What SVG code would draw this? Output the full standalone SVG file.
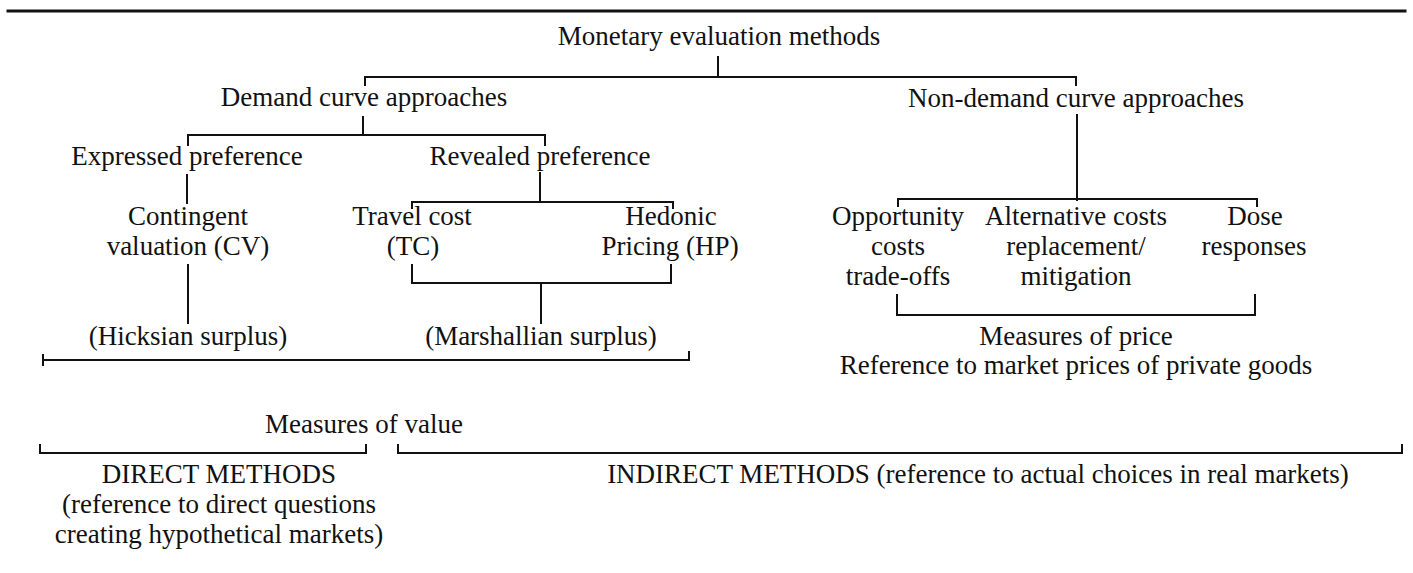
<svg xmlns="http://www.w3.org/2000/svg" width="1413" height="573" viewBox="0 0 1413 573">
<style>
text{font-family:"Liberation Serif","Times New Roman",serif;font-size:27px;fill:#111;text-anchor:middle}
.c{fill:none;stroke:#111;stroke-width:2;stroke-linecap:square}
</style>
<rect width="1413" height="573" fill="#fff"/>
<g id="connectors" class="c">
<line x1="8" y1="11" x2="1405" y2="11" stroke-width="3"/>
<path d="M718,57V77M365,85V77H1076V85"/>
<path d="M363,117V135M188,145V135H545V145"/>
<path d="M1077,115V200M898,206V199H1257V206"/>
<path d="M187,175V203"/>
<path d="M540,173V202M412,208V202H673V208"/>
<path d="M188,265V323"/>
<path d="M412,265V283H671V265M541,283V323"/>
<path d="M897,295V315H1255V295"/>
<path d="M43,355V365M43,360H689V352"/>
<path d="M40,445V453H366V445"/>
<path d="M398,445V453H1402V445"/>
</g>
<g id="n-monetary"><text x="719" y="45">Monetary evaluation methods</text></g>
<g id="n-demand"><text x="364" y="106">Demand curve approaches</text></g>
<g id="n-nondemand"><text x="1076" y="107">Non-demand curve approaches</text></g>
<g id="n-expressed"><text x="187" y="165">Expressed preference</text></g>
<g id="n-revealed"><text x="540" y="165">Revealed preference</text></g>
<g id="n-cv"><text x="188" y="225">Contingent</text><text x="188" y="255">valuation (CV)</text></g>
<g id="n-tc"><text x="412" y="225">Travel cost</text><text x="413" y="255">(TC)</text></g>
<g id="n-hp"><text x="671" y="225">Hedonic</text><text x="670" y="255">Pricing (HP)</text></g>
<g id="n-opp"><text x="898" y="225">Opportunity</text><text x="898" y="255">costs</text><text x="898" y="285">trade-offs</text></g>
<g id="n-alt"><text x="1076" y="225">Alternative costs</text><text x="1076" y="255">replacement/</text><text x="1076" y="285">mitigation</text></g>
<g id="n-dose"><text x="1255" y="225">Dose</text><text x="1254" y="255">responses</text></g>
<g id="n-hicks"><text x="188" y="345">(Hicksian surplus)</text></g>
<g id="n-marsh"><text x="541" y="345">(Marshallian surplus)</text></g>
<g id="n-price"><text x="1076" y="345">Measures of price</text><text x="1076" y="374">Reference to market prices of private goods</text></g>
<g id="n-value"><text x="364" y="433">Measures of value</text></g>
<g id="n-direct"><text x="219" y="483">DIRECT METHODS</text><text x="219" y="513">(reference to direct questions</text><text x="219" y="543">creating hypothetical markets)</text></g>
<g id="n-indirect"><text x="978" y="483">INDIRECT METHODS (reference to actual choices in real markets)</text></g>
</svg>
